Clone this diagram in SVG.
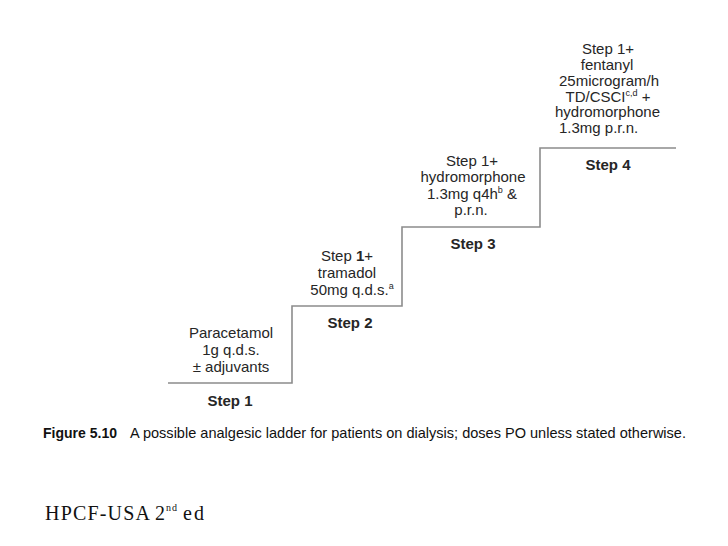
<svg xmlns="http://www.w3.org/2000/svg" width="728" height="546" viewBox="0 0 728 546">
<style>
.t{font-family:"Liberation Sans",Arial,sans-serif;font-size:15px;fill:#262626;text-anchor:middle}
.b{font-weight:bold}
.sup{font-size:9px}
.lad{fill:none;stroke:#8c8c8c;stroke-width:1.6}
.cap{font-family:"Liberation Sans",Arial,sans-serif;font-size:15px;fill:#111}
.src{font-family:"Liberation Serif","Times New Roman",serif;font-size:20px;fill:#111}
.srcsup{font-family:"Liberation Serif","Times New Roman",serif;font-size:10px;fill:#111;letter-spacing:1px}
</style>
<rect width="728" height="546" fill="#fff"/>
<g id="connectors">
<polyline class="lad" points="168,383 292,383 292,306 402,306 402,227 540,227 540,148 676,148"/>
</g>
<g id="step1">
<text class="t" x="231" y="338">Paracetamol</text>
<text class="t" x="231" y="355">1g q.d.s.</text>
<text class="t" x="231" y="372">± adjuvants</text>
<text class="t b" x="230" y="406">Step 1</text>
</g>
<g id="step2">
<text class="t" x="347" y="261">Step <tspan class="b">1</tspan>+</text>
<text class="t" x="347" y="278">tramadol</text>
<text class="t" x="352" y="295">50mg q.d.s.<tspan class="sup" dy="-6">a</tspan></text>
<text class="t b" x="350" y="328">Step 2</text>
</g>
<g id="step3">
<text class="t" x="472" y="166">Step 1+</text>
<text class="t" x="473" y="182">hydromorphone</text>
<text class="t" x="472" y="198.5">1.3mg q4h<tspan class="sup" dy="-6">b</tspan><tspan dy="6"> &amp;</tspan></text>
<text class="t" x="471" y="215">p.r.n.</text>
<text class="t b" x="473" y="249">Step 3</text>
</g>
<g id="step4">
<text class="t" x="608" y="54">Step 1+</text>
<text class="t" x="607" y="70">fentanyl</text>
<text class="t" x="609" y="86">25microgram/h</text>
<text class="t" x="608" y="101.5">TD/CSCI<tspan class="sup" dy="-6">c,d</tspan><tspan dy="6"> +</tspan></text>
<text class="t" x="607.5" y="117">hydromorphone</text>
<text class="t" x="559" y="133" style="text-anchor:start">1.3mg p.r.n.</text>
<text class="t b" x="608" y="170">Step 4</text>
</g>
<g id="caption">
<text class="cap" x="43" y="438" style="font-weight:bold" textLength="74" lengthAdjust="spacingAndGlyphs">Figure 5.10</text>
<text class="cap" x="130" y="438" textLength="556" lengthAdjust="spacingAndGlyphs">A possible analgesic ladder for patients on dialysis; doses PO unless stated otherwise.</text>
</g>
<g id="source">
<text class="src" x="45" y="520" textLength="105" lengthAdjust="spacing">HPCF-USA</text>
<text class="src" x="155" y="520">2</text>
<text class="srcsup" x="166" y="511">nd</text>
<text class="src" x="183" y="520" style="letter-spacing:2px">ed</text>
</g>
</svg>
